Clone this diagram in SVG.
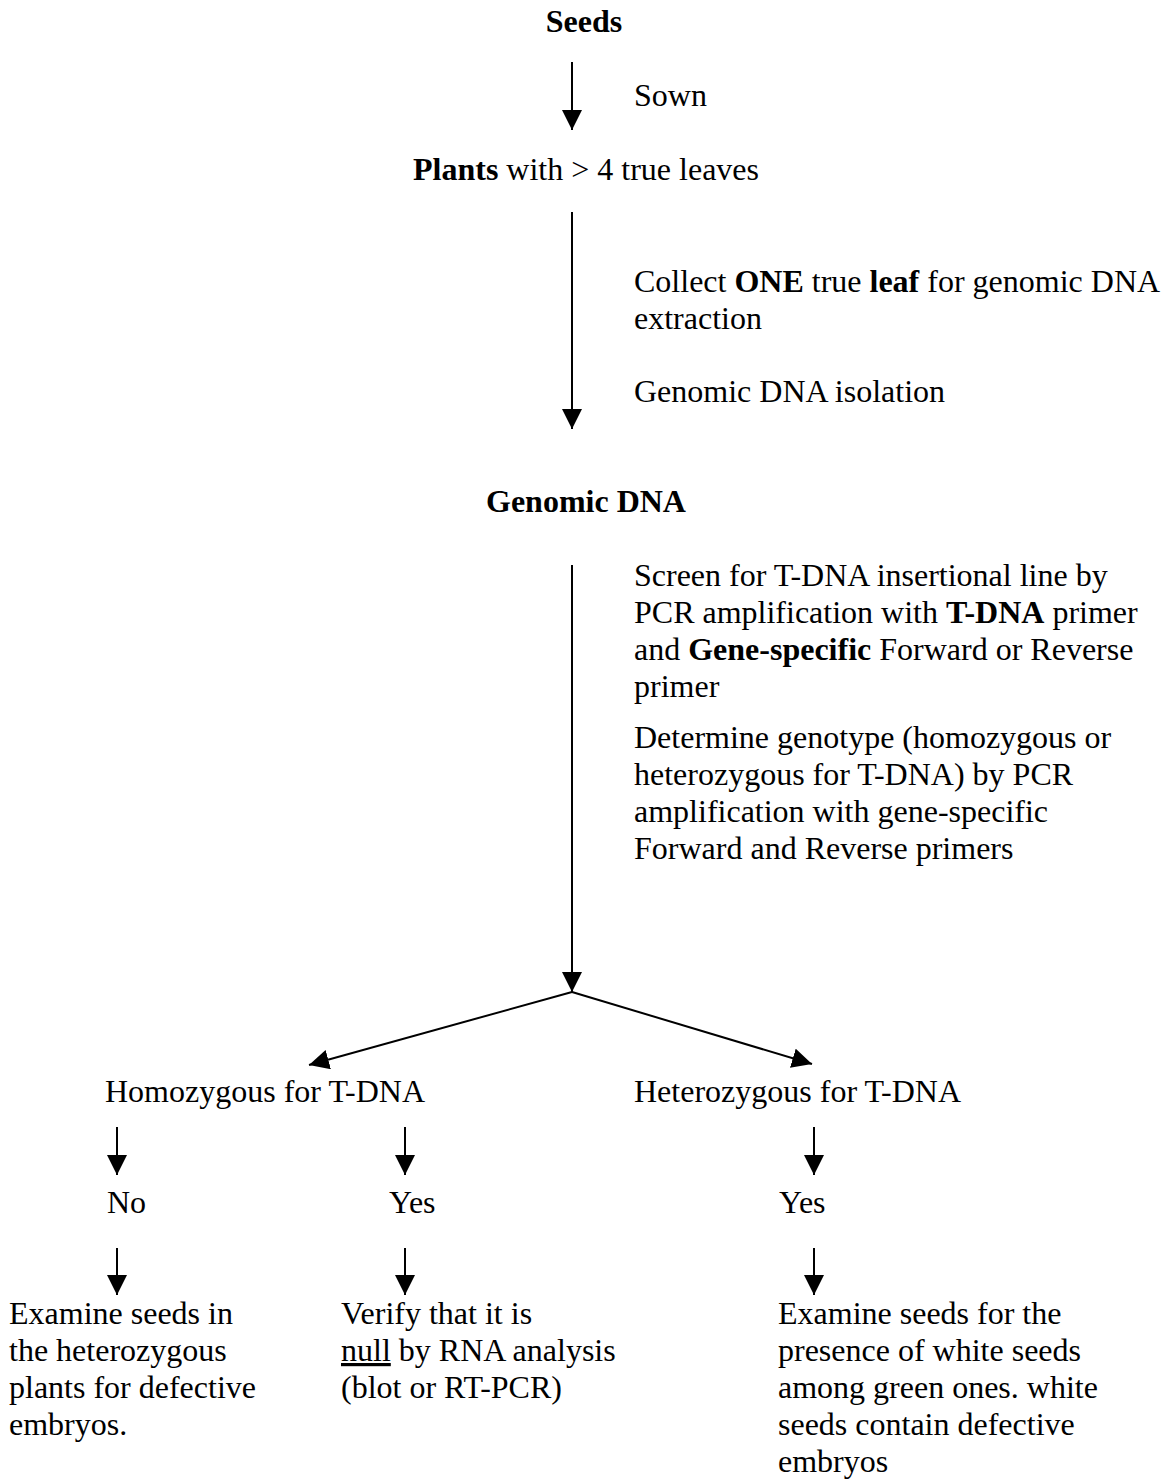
<svg xmlns="http://www.w3.org/2000/svg" width="1166" height="1479" viewBox="0 0 1166 1479">
<style>
text{font-family:"Liberation Serif","Times New Roman",serif;font-size:32px;fill:#000}
.b{font-weight:bold}
.c{stroke:#000;stroke-width:2;fill:none}
</style>
<defs>
<marker id="ah" viewBox="0 0 20 20" refX="20" refY="10" markerWidth="20" markerHeight="20" markerUnits="userSpaceOnUse" orient="auto">
<path d="M0,0 L20,10 L0,20 z" fill="#000"/>
</marker>
</defs>
<rect width="1166" height="1479" fill="#fff"/>
<g id="connectors">
<line class="c" x1="572" y1="62" x2="572" y2="130" marker-end="url(#ah)"/>
<line class="c" x1="572" y1="212" x2="572" y2="429" marker-end="url(#ah)"/>
<line class="c" x1="572" y1="565" x2="572" y2="992" marker-end="url(#ah)"/>
<line class="c" x1="572" y1="992" x2="309" y2="1065" marker-end="url(#ah)"/>
<line class="c" x1="572" y1="992" x2="812" y2="1064" marker-end="url(#ah)"/>
<line class="c" x1="117" y1="1127" x2="117" y2="1175" marker-end="url(#ah)"/>
<line class="c" x1="405" y1="1127" x2="405" y2="1175" marker-end="url(#ah)"/>
<line class="c" x1="814" y1="1127" x2="814" y2="1175" marker-end="url(#ah)"/>
<line class="c" x1="117" y1="1248" x2="117" y2="1295" marker-end="url(#ah)"/>
<line class="c" x1="405" y1="1248" x2="405" y2="1295" marker-end="url(#ah)"/>
<line class="c" x1="814" y1="1248" x2="814" y2="1295" marker-end="url(#ah)"/>
</g>
<g id="seeds"><text class="b" x="584" y="32" text-anchor="middle">Seeds</text></g>
<g id="sown"><text x="634" y="106">Sown</text></g>
<g id="plants"><text x="413" y="180"><tspan class="b">Plants</tspan> with &gt; 4 true leaves</text></g>
<g id="collect">
<text x="634" y="292">Collect <tspan class="b">ONE</tspan> true <tspan class="b">leaf</tspan> for genomic DNA</text>
<text x="634" y="329">extraction</text>
<text x="634" y="402">Genomic DNA isolation</text>
</g>
<g id="genomic-dna"><text class="b" x="486" y="512">Genomic DNA</text></g>
<g id="screen">
<text x="634" y="586">Screen for T-DNA insertional line by</text>
<text x="634" y="623">PCR amplification with <tspan class="b">T-DNA</tspan> primer</text>
<text x="634" y="660">and <tspan class="b">Gene-specific</tspan> Forward or Reverse</text>
<text x="634" y="697">primer</text>
<text x="634" y="748">Determine genotype (homozygous or</text>
<text x="634" y="785">heterozygous for T-DNA) by PCR</text>
<text x="634" y="822">amplification with gene-specific</text>
<text x="634" y="859">Forward and Reverse primers</text>
</g>
<g id="homozygous"><text x="105" y="1102">Homozygous for T-DNA</text></g>
<g id="heterozygous"><text x="634" y="1102">Heterozygous for T-DNA</text></g>
<g id="no"><text x="107" y="1213">No</text></g>
<g id="yes-homo"><text x="389" y="1213">Yes</text></g>
<g id="yes-hetero"><text x="779" y="1213">Yes</text></g>
<g id="examine-left">
<text x="9" y="1324">Examine seeds in</text>
<text x="9" y="1361">the heterozygous</text>
<text x="9" y="1398">plants for defective</text>
<text x="9" y="1435">embryos.</text>
</g>
<g id="verify">
<text x="341" y="1324">Verify that it is</text>
<text x="341" y="1361"><tspan text-decoration="underline">null</tspan> by RNA analysis</text>
<text x="341" y="1398">(blot or RT-PCR)</text>
</g>
<g id="examine-right">
<text x="778" y="1324">Examine seeds for the</text>
<text x="778" y="1361">presence of white seeds</text>
<text x="778" y="1398">among green ones. white</text>
<text x="778" y="1435">seeds contain defective</text>
<text x="778" y="1472">embryos</text>
</g>
</svg>
